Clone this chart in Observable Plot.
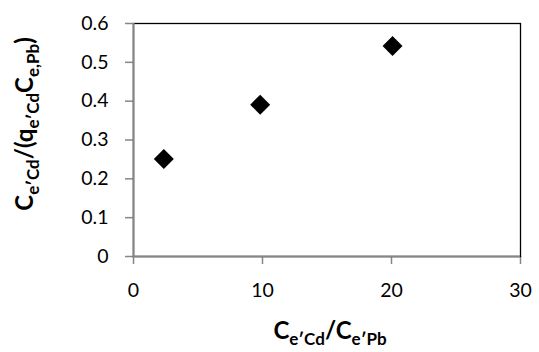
<!DOCTYPE html>
<html><head><meta charset="utf-8">
<script src="https://cdn.jsdelivr.net/npm/d3@7"></script>
<script src="https://cdn.jsdelivr.net/npm/@observablehq/plot@0.6"></script>
<style>body{margin:0;background:#fff}</style>
</head><body><div id="chart"></div>
<script>
// Data
const ratioCdPb = [2.35, 9.82, 20.08];           // Ce,Cd/Ce,Pb
const yValues   = [0.251, 0.391, 0.542];         // Ce,Cd/(qe,Cd Ce,Pb)
const xTicks = [0, 10, 20, 30];
const yTicks = [0, 0.1, 0.2, 0.3, 0.4, 0.5, 0.6];

const data = ratioCdPb.map((x, i) => ({x, y: yValues[i]}));
const FONT = "Lato, 'Open Sans', sans-serif";
const GRAY = "#868686";

const svg = Plot.plot({
  width: 539,
  height: 352,
  marginLeft: 133,
  marginRight: 19,
  marginTop: 23,
  marginBottom: 96,
  style: {fontFamily: FONT, fontSize: "19.5px", color: "black", background: "white"},
  x: {domain: [0, 30], ticks: xTicks, tickSize: 8, tickPadding: 19, label: null, tickFormat: d3.format("~g")},
  y: {domain: [0, 0.6], ticks: yTicks, tickSize: 8, tickPadding: 17, label: null, tickFormat: d3.format("~g")},
  marks: [
    Plot.frame({stroke: "black", strokeWidth: 1.3}),
    Plot.ruleX([0], {stroke: GRAY, strokeWidth: 2}),
    Plot.ruleY([0], {stroke: GRAY, strokeWidth: 2}),
    Plot.dot(data, {x: "x", y: "y", symbol: "diamond2", r: 9, fill: "black", stroke: "none"})
  ]
});

const s = d3.select(svg);
s.selectAll('g[aria-label*="axis"] path, g[aria-label*="axis"] line')
  .attr("stroke", GRAY).attr("stroke-width", 1.5);

function addLabel(parts, x, y, rotate) {
  const t = s.append("text")
    .attr("text-anchor", "middle")
    .attr("font-family", FONT)
    .attr("font-weight", "bold")
    .attr("fill", "black")
    .attr("transform", `translate(${x},${y})` + (rotate ? " rotate(-90)" : ""));
  let shifted = false;
  for (const [txt, sub] of parts) {
    const ts = t.append("tspan").text(txt).attr("font-size", sub ? "17px" : "24px");
    if (sub && !shifted) { ts.attr("dy", 6); shifted = true; }
    else if (!sub && shifted) { ts.attr("dy", -6); shifted = false; }
  }
}

addLabel([["C", false], ["e\u2032Cd", true], ["/C", false], ["e\u2032Pb", true]], 330, 339, false);
addLabel([["C", false], ["e\u2032Cd", true], ["/(q", false], ["e\u2032Cd", true], ["C", false], ["e,Pb", true], [")", false]], 33, 124, true);

document.getElementById("chart").appendChild(svg);
</script>
</body></html>
